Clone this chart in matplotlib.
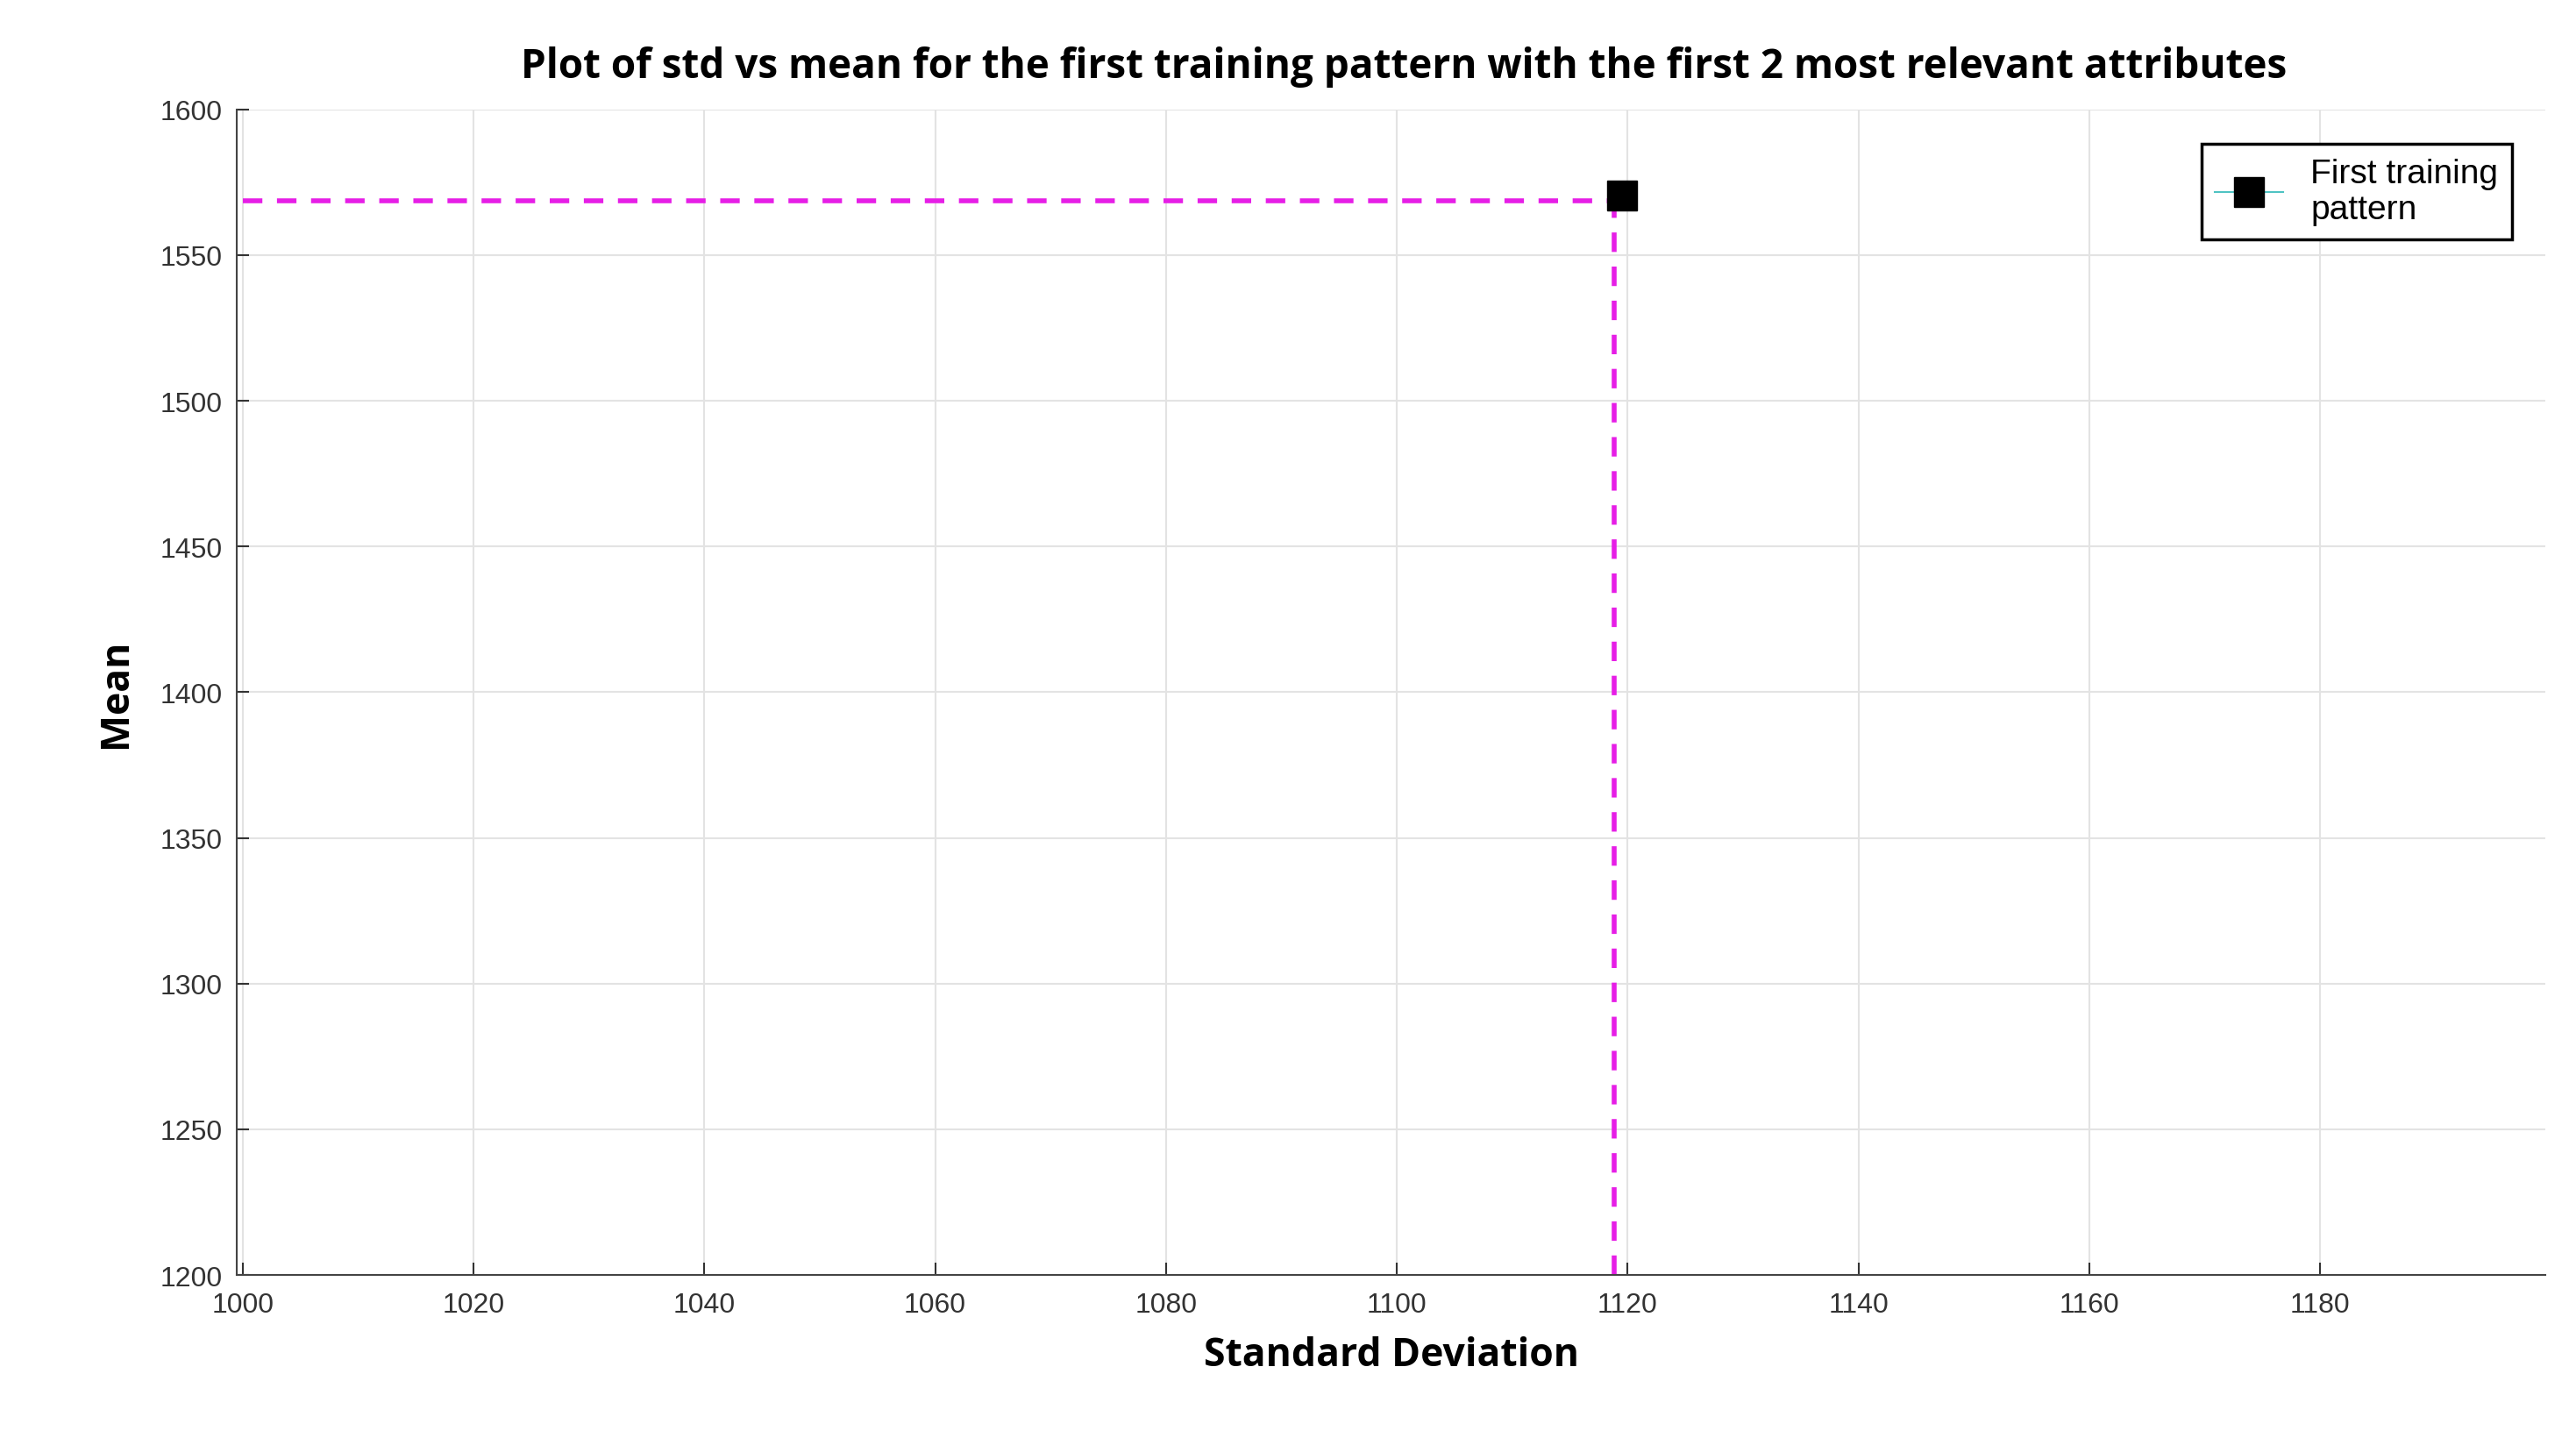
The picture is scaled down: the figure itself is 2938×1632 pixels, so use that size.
import matplotlib.pyplot as plt

# data
std_point = [1119.5]
mean_point = [1570.5]
std_guide = 1118.8
mean_guide = 1568.5
x_ticks = list(range(1000, 1200, 20))
y_ticks = list(range(1200, 1650, 50))

fig = plt.figure(figsize=(29.38, 16.33), dpi=100)
ax = fig.add_axes([0.092, 0.109, 0.896, 0.814])

ax.plot([1000, std_guide], [mean_guide, mean_guide], color="#e61ee6",
        lw=4, ls=(0, (4, 3)), zorder=2)
ax.plot([std_guide, std_guide], [1200, mean_guide], color="#e61ee6",
        lw=4, ls=(0, (4, 3)), zorder=2)
ax.plot(std_point, mean_point, marker="s", ms=24, color="#4fc3c3", lw=1.5,
        mfc="black", mec="black", ls="-", label="First training\npattern",
        zorder=3, clip_on=False)

ax.set_xlim(999.5, 1199.5)
ax.set_ylim(1200, 1600)
ax.set_xticks(x_ticks)
ax.set_yticks(y_ticks)
ax.grid(True, color="#e3e3e3", lw=1.5)
for side in ["top", "right"]:
    ax.spines[side].set_visible(False)
for side in ["left", "bottom"]:
    ax.spines[side].set_color("#444444")
    ax.spines[side].set_linewidth(1.5)
ax.tick_params(labelsize=23, colors="#333333", length=10, width=1.5,
               direction="in")
ax.tick_params(axis="x", pad=14)
ax.tick_params(axis="y", pad=12)
for lab in ax.get_xticklabels() + ax.get_yticklabels():
    lab.set_family("Liberation Sans")

ax.set_xlabel("Standard Deviation", fontsize=32, fontweight="bold",
              family="Open Sans", labelpad=14)
ax.set_ylabel("Mean", fontsize=32, fontweight="bold", family="Open Sans",
              labelpad=20)
fig.text(0.545, 0.953, "Plot of std vs mean for the first training pattern "
         "with the first 2 most relevant attributes", ha="center", va="center",
         fontsize=33, fontweight="bold", family="Open Sans")

leg = ax.legend(loc="upper right", bbox_to_anchor=(0.993, 0.985),
                prop={"family": "Liberation Sans", "size": 28},
                fancybox=False, edgecolor="black", framealpha=1,
                handlelength=2.0, borderpad=0.4, labelspacing=0.3)
leg.get_frame().set_linewidth(2.5)

fig.savefig("out.png", dpi=100, facecolor="white")
